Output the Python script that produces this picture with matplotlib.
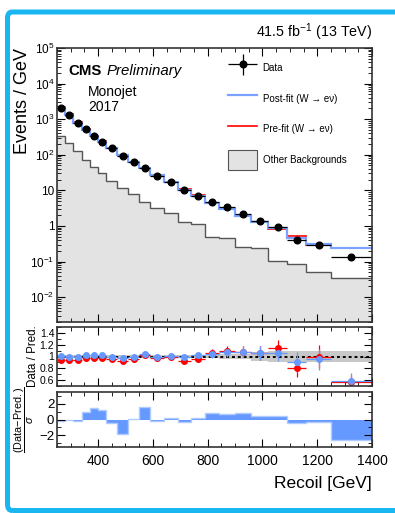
import numpy as np
import matplotlib
matplotlib.use('Agg')
import matplotlib.pyplot as plt
from matplotlib.ticker import FixedLocator, FuncFormatter, MultipleLocator, LogLocator, NullFormatter
from matplotlib.patches import FancyBboxPatch, Patch
from matplotlib.lines import Line2D
from matplotlib.legend_handler import HandlerErrorbar
from matplotlib.container import ErrorbarContainer

plt.rcParams['font.family'] = ['Liberation Sans', 'DejaVu Sans']
plt.rcParams['mathtext.fontset'] = 'custom'
plt.rcParams['mathtext.rm'] = 'Liberation Sans'
plt.rcParams['mathtext.it'] = 'Liberation Sans:italic'
plt.rcParams['mathtext.bf'] = 'Liberation Sans:bold'

# recoil binning (GeV)
edges = [250, 280, 310, 340, 370, 400, 430, 470, 510, 550, 590, 640, 690,
         740, 790, 840, 900, 960, 1020, 1090, 1160, 1250, 1400]

# events / GeV
data = [2100, 1290, 760, 520, 340, 234, 151, 93, 62, 43.6, 26, 17, 10, 7.1,
        4.7, 3.3, 2.1, 1.4, 0.91, 0.41, 0.30, 0.138]
data_err = [8.4, 6.6, 5.0, 4.2, 3.4, 2.8, 1.9, 1.5, 1.25, 1.04, 0.72, 0.58,
            0.45, 0.38, 0.31, 0.23, 0.19, 0.15, 0.11, 0.077, 0.058, 0.03]
postfit = [2090, 1290, 760, 510, 333, 229, 151, 96, 62, 41.9, 26.3, 16.8,
           10.1, 6.9, 4.48, 3.08, 1.94, 1.32, 0.86, 0.45, 0.316, 0.234]
prefit = [2234, 1372, 809, 536, 347, 241, 159, 101, 64.6, 42.3, 26.8, 17.2,
          10.75, 7.4, 4.43, 3.0, 1.94, 1.32, 0.80, 0.51, 0.30, 0.246]
other_bkg = [340, 210, 131, 71, 46, 30, 18.7, 11.4, 7.7, 4.8, 3.1, 2.3, 1.3,
             1.14, 0.5, 0.47, 0.25, 0.235, 0.104, 0.084, 0.05, 0.035]

# relative uncertainty on the post-fit prediction
unc_band = [0.02, 0.02, 0.02, 0.02, 0.02, 0.02, 0.02, 0.02, 0.02, 0.02, 0.02,
            0.02, 0.02, 0.025, 0.03, 0.035, 0.04, 0.07, 0.09, 0.1, 0.1, 0.1]

# (data - pred) / sigma
pull = [-0.13, -0.1, -0.25, 0.9, 1.5, 1.2, -0.43, -1.9, 0.1, 1.6, -0.15, 0.2,
        -0.35, 0.2, 0.8, 0.75, 0.85, 0.5, 0.5, -0.45, -0.3, -2.6]

edges = np.array(edges)
centers = 0.5 * (edges[1:] + edges[:-1])
halfw = 0.5 * (edges[1:] - edges[:-1])
data = np.array(data)
data_err = np.array(data_err)
postfit = np.array(postfit)
prefit = np.array(prefit)

c_post = '#7aa3ff'
c_post_pt = '#6699ff'
c_pre = '#ff0000'
c_frame = '#333333'

fig = plt.figure(figsize=(3.95, 5.13), dpi=100)
W, H = 395.0, 513.0

def ax_at(x0, y0, x1, y1):
    return fig.add_axes([x0 / W, 1 - y1 / H, (x1 - x0) / W, (y1 - y0) / H])

ax = ax_at(57, 48, 372, 322)
axr = ax_at(57, 327, 372, 386)
axp = ax_at(57, 392, 372, 447)

for a in (ax, axr, axp):
    a.set_xlim(250, 1400)
    a.tick_params(which='both', direction='in', top=True, right=True, colors='black')
    a.tick_params(which='major', length=6, width=0.8)
    a.tick_params(which='minor', length=3, width=0.6)
    a.xaxis.set_major_locator(MultipleLocator(200))
    a.xaxis.set_minor_locator(MultipleLocator(50))
    for s in a.spines.values():
        s.set_color(c_frame)
        s.set_linewidth(1.2)

# ---- main panel
ax.set_yscale('log')
ax.set_ylim(2e-3, 1e5)
ax.stairs(other_bkg, edges, baseline=1e-5, fill=True, color='#e3e3e3')
ax.stairs(other_bkg, edges, baseline=None, color='#555555', lw=1.0)
ax.stairs(prefit, edges, baseline=None, color=c_pre, lw=1.2)
ax.stairs(postfit, edges, baseline=None, color=c_post, lw=1.6)
h_data = ax.errorbar(centers, data, xerr=halfw, yerr=data_err, fmt='o', color='black',
                     ms=4.8, lw=0.9, capsize=0)
ax.yaxis.set_major_locator(FixedLocator([10.0 ** k for k in range(-2, 6)]))
ax.yaxis.set_minor_locator(LogLocator(base=10, subs=np.arange(2, 10)))
ax.yaxis.set_minor_formatter(NullFormatter())

def logfmt(v, pos):
    k = int(round(np.log10(v)))
    if k == 0:
        return '1'
    if k == 1:
        return '10'
    return r'$10^{%d}$' % k

ax.yaxis.set_major_formatter(FuncFormatter(logfmt))
ax.tick_params(axis='y', labelsize=8.5, pad=2)
ax.tick_params(axis='x', labelbottom=False)
ax.set_ylabel('Events / GeV', loc='top', fontsize=13)
ax.yaxis.set_label_coords(-0.082, 1.0)

ax.text(0.035, 0.915, 'CMS', transform=ax.transAxes, fontsize=10.8, fontweight='bold', va='center')
ax.text(0.158, 0.915, 'Preliminary', transform=ax.transAxes, fontsize=10.8, style='italic', va='center')
ax.text(0.098, 0.812, 'Monojet\n2017', transform=ax.transAxes, fontsize=10, va='center', linespacing=1.12)

handles = [h_data,
           Line2D([], [], color=c_post, lw=1.6),
           Line2D([], [], color=c_pre, lw=1.2),
           Patch(facecolor='#e3e3e3', edgecolor='#555555', lw=0.8)]
labels = ['Data', 'Post-fit (W \u2192 e\u03bd)', 'Pre-fit (W \u2192 e\u03bd)', 'Other Backgrounds']
ax.legend(handles, labels, loc='upper left', bbox_to_anchor=(0.543, 0.9635), frameon=False,
          fontsize=7, handlelength=3.0, handleheight=2.8, labelspacing=1.1,
          borderaxespad=0, borderpad=0, handletextpad=0.55,
          handler_map={ErrorbarContainer: HandlerErrorbar(xerr_size=1.5, yerr_size=1.1)})

fig.text(372 / W, 1 - 32 / H, r'41.5 fb$^{-1}$ (13 TeV)', ha='right', va='center', fontsize=10.3)

# ---- ratio panel
r_post = data / postfit
r_pre = data / prefit
axr.set_ylim(0.5, 1.5)
band = np.array(unc_band)
axr.stairs(1 + band, edges, baseline=1 - band, fill=True, color='#c8c8c8', lw=0)
axr.axhline(1.0, color='black', lw=1.4, ls=(0, (1.5, 1.5)))
axr.errorbar(centers, r_pre, xerr=halfw, yerr=data_err / prefit, fmt='o', color=c_pre,
             ms=4.0, lw=0.9, capsize=0)
axr.errorbar(centers, r_post, xerr=halfw, yerr=data_err / postfit, fmt='o', color=c_post_pt,
             ms=4.0, lw=0.9, capsize=0)
axr.yaxis.set_major_locator(FixedLocator([0.6, 0.8, 1.0, 1.2, 1.4]))
axr.yaxis.set_major_formatter(FuncFormatter(lambda v, p: '1' if abs(v - 1) < 1e-6 else '%.1f' % v))
axr.yaxis.set_minor_locator(MultipleLocator(0.1))
axr.tick_params(axis='y', labelsize=7.5, pad=2)
axr.tick_params(axis='x', labelbottom=False)
axr.set_ylabel('Data / Pred.', fontsize=8.3)
axr.yaxis.set_label_coords(-0.057, 0.5)

# ---- pull panel
axp.set_ylim(-3.5, 3.5)
axp.stairs(pull, edges, baseline=0, fill=True, color=c_post_pt, lw=0)
axp.stairs(pull, edges, baseline=None, color='#b0ccff', lw=1.0)
axp.yaxis.set_major_locator(FixedLocator([-2, 0, 2]))
axp.yaxis.set_major_formatter(FuncFormatter(lambda v, p: '%d' % v if v >= 0 else '\u2212%d' % -v))
axp.yaxis.set_minor_locator(MultipleLocator(1))
axp.tick_params(axis='y', labelsize=9.5, pad=2)
axp.tick_params(axis='x', labelsize=10, pad=5)
axp.set_ylabel(r'$\dfrac{\mathrm{(Data\!-\!Pred.)}}{\sigma}$', fontsize=7.8)
axp.yaxis.set_label_coords(-0.066, 0.5)
axp.set_xlabel('Recoil [GeV]', loc='right', fontsize=12.5, labelpad=6)

# blue frame around the figure
frame = FancyBboxPatch((7.5 / W, 2.5 / H), 400 / W, (H - 12 - 2.5) / H,
                       boxstyle='round,pad=0,rounding_size=0.012', transform=fig.transFigure,
                       fill=False, edgecolor='#19b6f0', lw=3.6, clip_on=False)
fig.patches.append(frame)

fig.savefig('out.png', dpi=100)
